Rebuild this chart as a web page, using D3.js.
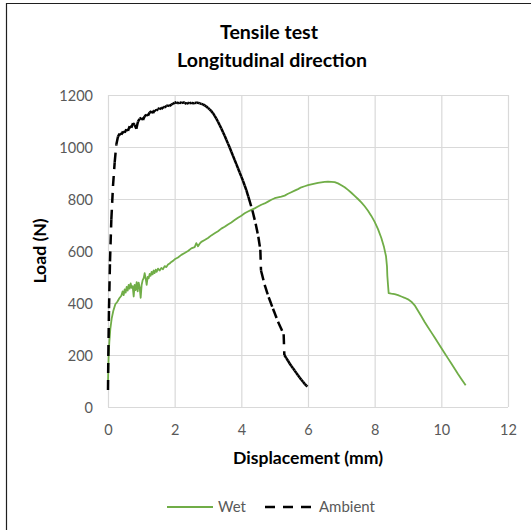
<!DOCTYPE html>
<html>
<head>
<meta charset="utf-8">
<script src="https://cdn.jsdelivr.net/npm/d3@7/dist/d3.min.js"></script>
<style>
  html, body { margin: 0; padding: 0; background: #fff; }
  svg { display: block; font-family: Lato, "Open Sans", sans-serif; }
</style>
</head>
<body>
<svg id="chart" width="531" height="530"></svg>
<script>
// ---------- DATA ----------
const titleLines = ["Tensile test", "Longitudinal direction"];
const xTitle = "Displacement (mm)";
const yTitle = "Load (N)";
const xTicks = [0, 2, 4, 6, 8, 10, 12];
const yTicks = [0, 200, 400, 600, 800, 1000, 1200];
const seriesNames = ["Wet", "Ambient"];

// Wet series: displacement (mm) / load (N)
const wetX = [0.00,0.01,0.02,0.04,0.07,0.11,0.16,0.22,0.28,0.34,
  0.40,0.44,0.47,0.50,0.53,0.56,0.59,0.62,0.65,0.68,0.71,0.74,0.77,0.80,0.83,0.86,0.89,0.92,0.95,0.98,
  1.01,1.04,1.07,1.10,1.13,1.16,1.19,1.22,1.25,1.28,1.31,1.34,1.37,1.40,1.43,1.46,1.50,1.55,1.60,1.65,
  1.70,1.75,1.80,1.85,1.90,1.95,2.00,2.10,2.20,2.30,2.40,2.50,2.60,2.65,2.70,2.75,2.80,2.90,3.00,
  3.10,3.20,3.30,3.40,3.50,3.60,3.70,3.80,3.90,4.00,4.10,4.20,4.30,4.40,4.50,4.60,4.70,4.80,4.90,5.00,
  5.10,5.20,5.30,5.40,5.50,5.60,5.70,5.80,5.90,6.00,6.10,6.20,6.30,6.40,6.50,6.60,6.70,6.80,6.90,7.00,
  7.10,7.20,7.30,7.40,7.50,7.60,7.70,7.80,7.90,8.00,8.10,8.20,8.28,8.34,8.37,8.38,8.40,8.42,8.50,8.60,
  8.70,8.80,8.90,9.00,9.10,9.20,9.30,9.40,9.50,9.60,9.70,9.80,9.90,10.00,10.10,10.20,10.30,10.40,10.50,10.60,10.73];
const wetY = [95,150,200,250,300,340,370,395,405,418,
  428,445,430,452,440,462,448,470,455,475,458,465,425,470,450,480,445,478,460,420,
  470,488,495,515,495,470,500,495,512,505,520,510,525,515,528,520,532,525,535,530,
  542,538,548,552,558,562,568,575,585,592,600,610,615,630,618,628,635,642,650,
  660,668,676,686,693,702,710,719,728,736,745,752,758,764,771,778,783,790,797,803,
  806,809,813,820,826,832,838,845,849,853,856,859,862,864,866,867,866,865,860,853,
  845,835,824,812,800,787,772,755,735,712,684,650,615,580,540,505,470,438,436,434,
  430,425,420,414,405,391,370,349,327,307,287,267,247,227,207,187,167,147,127,108,84];

// Ambient series: displacement (mm) / load (N)
const ambX = [0.00,0.01,0.03,0.06,0.10,0.15,0.20,0.25,
  0.30,0.35,0.40,0.45,0.50,0.55,0.60,0.65,0.70,0.75,0.80,0.85,0.90,0.95,1.00,1.05,1.10,1.15,1.20,1.25,
  1.30,1.35,1.40,1.45,1.50,1.55,1.60,1.65,1.70,1.75,1.80,1.85,1.90,1.95,2.00,2.05,2.10,2.15,2.20,2.25,
  2.30,2.35,2.40,2.45,2.50,2.55,2.60,2.65,2.70,2.75,2.80,2.85,2.90,2.95,3.00,
  3.05,3.10,3.15,3.20,3.25,3.30,3.35,3.40,3.45,3.50,3.55,3.60,3.65,3.70,3.75,3.80,3.85,3.90,3.95,4.00,
  4.05,4.10,4.15,4.21,4.33,4.43,4.51,4.57,4.59,4.70,4.82,4.95,5.10,5.27,5.29,
  5.35,5.40,5.45,5.50,5.55,5.60,5.65,5.70,5.75,5.80,5.85,5.90,5.95,5.98];
const ambY = [65,200,380,560,720,850,940,1010,
  1040,1052,1047,1060,1055,1068,1062,1080,1074,1092,1085,1070,1098,1108,1112,1104,1118,1125,1120,1133,
  1138,1130,1142,1140,1146,1150,1145,1154,1152,1158,1160,1157,1164,1166,1170,1172,1168,1171,1169,1172,
  1170,1166,1170,1168,1171,1167,1170,1169,1171,1168,1166,1164,1160,1156,1150,
  1145,1138,1130,1120,1109,1097,1084,1071,1057,1043,1028,1013,998,982,966,950,934,918,902,886,
  870,852,834,809,757,705,655,605,525,470,422,378,328,280,200,
  188,178,167,158,149,140,131,122,113,105,97,89,82,78];

// ---------- LAYOUT ----------
const svg = d3.select("#chart");
const plot = { left: 108, right: 508, top: 95, bottom: 407 };
const x = d3.scaleLinear().domain([0, 12]).range([plot.left, plot.right]);
const y = d3.scaleLinear().domain([0, 1200]).range([plot.bottom, plot.top]);

const GRID = "#d9d9d9", TICK = "#595959", GREEN = "#70AD47";

function fit(sel, w) {
  const n = sel.node();
  const l = n.getComputedTextLength();
  const fs = parseFloat(sel.attr("font-size"));
  if (l > 0) sel.attr("font-size", (fs * w / l).toFixed(2));
}

// outer frame (cropped chart border)
svg.append("path")
  .attr("d", "M6.5,531 L6.5,3.5 L531,3.5")
  .attr("fill", "none").attr("stroke", "#1f1f1f").attr("stroke-width", 1.2);

// gridlines
svg.append("g").selectAll("line.v").data(xTicks).join("line")
  .attr("x1", d => x(d) + 0.5).attr("x2", d => x(d) + 0.5)
  .attr("y1", plot.top).attr("y2", plot.bottom)
  .attr("stroke", GRID).attr("stroke-width", 1.2);
svg.append("g").selectAll("line.h").data(yTicks).join("line")
  .attr("y1", d => y(d) + 0.5).attr("y2", d => y(d) + 0.5)
  .attr("x1", plot.left).attr("x2", plot.right)
  .attr("stroke", GRID).attr("stroke-width", 1.2);

// axes via d3 axis, styled to look like Excel labels
const xAxis = svg.append("g").attr("transform", `translate(0,${plot.bottom})`)
  .call(d3.axisBottom(x).tickValues(xTicks).tickSize(0).tickPadding(0).tickFormat(d3.format("d")));
xAxis.select(".domain").remove();
xAxis.selectAll("text").attr("y", 28).attr("dy", null)
  .attr("font-size", 14.5).attr("font-family", "Lato").attr("fill", TICK);

const yAxis = svg.append("g").attr("transform", `translate(${plot.left},0)`)
  .call(d3.axisLeft(y).tickValues(yTicks).tickSize(0).tickPadding(0).tickFormat(d3.format("d")));
yAxis.select(".domain").remove();
yAxis.selectAll("text").attr("x", -15).attr("dy", "0.36em")
  .attr("font-size", 14.5).attr("font-family", "Lato").attr("fill", TICK);

// titles (both lines share one size)
const t2 = svg.append("text").text(titleLines[1]).attr("x", 272).attr("y", 67)
  .attr("text-anchor", "middle").attr("font-weight", "bold").attr("font-size", 18).attr("fill", "#000");
fit(t2, 190);
svg.append("text").text(titleLines[0]).attr("x", 269).attr("y", 38.5)
  .attr("text-anchor", "middle").attr("font-weight", "bold").attr("font-size", t2.attr("font-size")).attr("fill", "#000");

const xt = svg.append("text").text(xTitle).attr("x", (plot.left + plot.right) / 2).attr("y", 464)
  .attr("text-anchor", "middle").attr("font-weight", "bold").attr("font-size", 15).attr("fill", "#000");
fit(xt, 150);
svg.append("text").text(yTitle)
  .attr("transform", `translate(46,${(plot.top + plot.bottom) / 2}) rotate(-90)`)
  .attr("text-anchor", "middle").attr("font-weight", "bold").attr("font-size", xt.attr("font-size")).attr("fill", "#000");

// Wet series (solid)
const wet = wetX.map((d, i) => [d, wetY[i]]);
const line = d3.line().x(d => x(d[0])).y(d => y(d[1]));
svg.append("path").datum(wet).attr("d", line)
  .attr("fill", "none").attr("stroke", GREEN).attr("stroke-width", 1.8)
  .attr("stroke-linejoin", "round");

// Ambient series (dashed; dash pattern restarts at each data point, like Excel)
const amb = ambX.map((d, i) => [d, ambY[i]]);
const segs = d3.pairs(amb);
svg.append("g").selectAll("path").data(segs).join("path")
  .attr("d", line)
  .attr("fill", "none").attr("stroke", "#000").attr("stroke-width", 2.5)
  .attr("stroke-dasharray", "10,7");

// legend
const leg = svg.append("g");
leg.append("line").attr("x1", 167).attr("x2", 213).attr("y1", 507).attr("y2", 507)
  .attr("stroke", GREEN).attr("stroke-width", 1.8);
const l1 = leg.append("text").text(seriesNames[0]).attr("x", 218).attr("y", 512)
  .attr("font-size", 14.5).attr("fill", TICK);
leg.append("line").attr("x1", 265).attr("x2", 312).attr("y1", 507).attr("y2", 507)
  .attr("stroke", "#000").attr("stroke-width", 2.5).attr("stroke-dasharray", "10,8");
const l2 = leg.append("text").text(seriesNames[1]).attr("x", 319).attr("y", 512)
  .attr("font-size", 14.5).attr("fill", TICK);
fit(l2, 56);
l1.attr("font-size", l2.attr("font-size"));
</script>
</body>
</html>
